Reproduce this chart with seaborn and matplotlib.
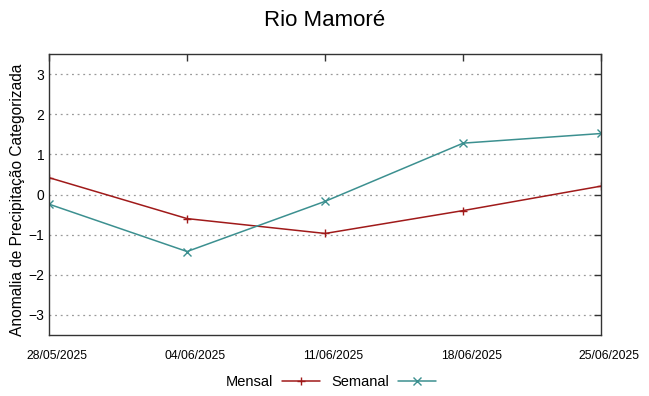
import pandas as pd
import seaborn as sns
import matplotlib.pyplot as plt
import matplotlib.transforms as mtransforms
from matplotlib.lines import Line2D

dates = ['28/05/2025', '04/06/2025', '11/06/2025', '18/06/2025', '25/06/2025']
mensal = [0.42, -0.60, -0.97, -0.40, 0.21]
semanal = [-0.24, -1.42, -0.17, 1.28, 1.52]

series = {'Mensal': mensal, 'Semanal': semanal}
colors = {'Mensal': '#a01a1a', 'Semanal': '#3c9090'}
markers = {'Mensal': '+', 'Semanal': 'x'}

sns.set_style('white')
plt.rcParams['font.family'] = ['Liberation Sans', 'DejaVu Sans']
plt.rcParams['text.color'] = 'black'
plt.rcParams['axes.labelcolor'] = 'black'
plt.rcParams['xtick.color'] = 'black'
plt.rcParams['ytick.color'] = 'black'

fig = plt.figure(figsize=(6.49, 3.96), dpi=100)
ax = fig.add_axes([0.0755, 0.154, 0.851, 0.7096])

for name, vals in series.items():
    df = pd.DataFrame({'pos': range(len(dates)), 'valor': vals})
    sns.lineplot(data=df, x='pos', y='valor', color=colors[name], marker=markers[name],
                 markeredgecolor=colors[name], markersize=5.5, markeredgewidth=1.0,
                 linewidth=1.1, ax=ax)

ax.set_xlim(0, len(dates) - 1)
ax.set_ylim(-3.5, 3.5)
ax.set_xticks(range(len(dates)))
ax.set_xticklabels(dates, fontsize=8.7)
ax.set_yticks(range(-3, 4))
ax.tick_params(axis='y', labelsize=10)
ax.tick_params(direction='in', top=True, right=True, length=5, width=1, color='#333333')
ax.tick_params(axis='x', pad=11)
ax.grid(axis='y', linestyle=(0, (1.5, 3)), color='#999999', linewidth=0.9)
for s in ax.spines.values():
    s.set_color('#333333')
    s.set_linewidth(1)

# gnuplot puts the date labels a little right of their ticks
shift = mtransforms.ScaledTranslation(8 / 100, 0, fig.dpi_scale_trans)
for lbl in ax.get_xticklabels():
    lbl.set_transform(lbl.get_transform() + shift)

ax.set_xlabel('')
ax.set_ylabel('Anomalia de Precipitação Categorizada', fontsize=11.2)
ax.yaxis.set_label_coords(-0.043, 0.48)
fig.suptitle('Rio Mamoré', fontsize=16, y=0.975)

handles = [Line2D([], [], color=colors[k], marker=markers[k], markersize=5.5,
                  markeredgewidth=1.0, linewidth=1.1) for k in ['Mensal', 'Semanal']]
fig.legend(handles, ['Mensal', 'Semanal'], loc='center', bbox_to_anchor=(0.51, 0.035),
           ncol=2, frameon=False, markerfirst=False, fontsize=10.5,
           handlelength=2.6, columnspacing=0.8, handletextpad=0.6)

fig.savefig('out.png', dpi=100)
